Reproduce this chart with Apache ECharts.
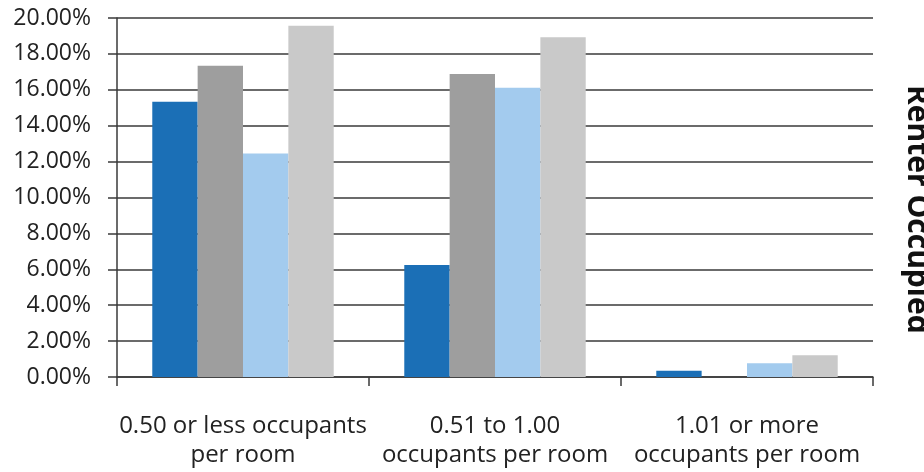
<!DOCTYPE html>
<html>
<head>
<meta charset="utf-8">
<script src="https://cdn.jsdelivr.net/npm/echarts@6/dist/echarts.min.js"></script>
<style>
  html, body { margin: 0; padding: 0; background: #fff; }
  #chart { width: 924px; height: 472px; }
</style>
</head>
<body>
<div id="chart"></div>
<script>
// occupancy categories on the x axis
const categories = [
  '0.50 or less occupants\nper room',
  '0.51 to 1.00\noccupants per room',
  '1.01 or more\noccupants per room'
]
// four unnamed series (no legend in the source), values in fractions
const seriesA = [0.1534, 0.0624, 0.0035]
const seriesB = [0.1734, 0.1688, 0]
const seriesC = [0.1245, 0.1612, 0.0076]
const seriesD = [0.1957, 0.1893, 0.0121]
const yTicks = { min: 0, max: 0.2, interval: 0.02 }
const sideTitle = 'Renter Occupied'

const colors = ['#1b6fb6', '#9e9e9e', '#a3cbee', '#c9c9c9']
const font = '"Open Sans", "Noto Sans", sans-serif'
const lineColor = '#3a3a3a'

const chart = echarts.init(document.getElementById('chart'))

const makeBar = (name, data, i) => ({
  name: name,
  type: 'bar',
  data: data,
  barGap: 0,
  barCategoryGap: '28%',
  itemStyle: { color: colors[i] }
})

chart.setOption({
  animation: false,
  grid: { left: 117, right: 51, top: 18, bottom: 95 },
  xAxis: {
    type: 'category',
    data: categories,
    axisLine: { lineStyle: { color: lineColor, width: 1.5 } },
    axisTick: { show: true, length: 9, lineStyle: { color: lineColor, width: 1.5 } },
    axisLabel: {
      interval: 0,
      margin: 35,
      fontSize: 24,
      lineHeight: 29,
      color: '#222',
      fontFamily: font
    }
  },
  yAxis: {
    type: 'value',
    min: yTicks.min,
    max: yTicks.max,
    interval: yTicks.interval,
    axisLine: { show: true, lineStyle: { color: lineColor, width: 1.5 } },
    axisTick: { show: true, length: 9, lineStyle: { color: lineColor, width: 1.5 } },
    splitLine: { show: true, lineStyle: { color: lineColor, width: 1.5 } },
    axisLabel: {
      margin: 26,
      fontSize: 23,
      color: '#222',
      fontFamily: font,
      formatter: (v) => (v * 100).toFixed(2) + '%'
    }
  },
  graphic: [
    {
      type: 'text',
      x: 917,
      y: 85,
      rotation: -Math.PI / 2,
      style: {
        text: sideTitle,
        fontSize: 30,
        fontWeight: 'bold',
        fontFamily: font,
        fill: '#111',
        textVerticalAlign: 'middle'
      }
    }
  ],
  series: [
    makeBar('Series 1', seriesA, 0),
    makeBar('Series 2', seriesB, 1),
    makeBar('Series 3', seriesC, 2),
    makeBar('Series 4', seriesD, 3)
  ]
})
</script>
</body>
</html>
